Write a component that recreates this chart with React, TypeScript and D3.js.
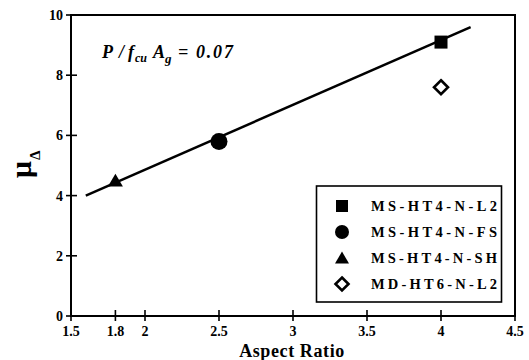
import React from "react";
import * as d3 from "d3";

const W = 529, H = 360;
const xTicks = [1.5, 1.8, 2, 2.5, 3, 3.5, 4, 4.5];
const xTickLabels = ["1.5", "1.8", "2", "2.5", "3", "3.5", "4", "4.5"];
const yTicks = [0, 2, 4, 6, 8, 10];
const seriesNames = ["MS-HT4-N-L2", "MS-HT4-N-FS", "MS-HT4-N-SH", "MD-HT6-N-L2"];
const seriesShapes = ["square", "circle", "triangle", "diamond"];
const seriesX = [4, 2.5, 1.8, 4];
const seriesY = [9.1, 5.8, 4.5, 7.6];
const fitX = [1.6, 4.2];
const fitY = [4.0, 9.6];

const FONT = "Liberation Serif, Times New Roman, Times, serif";

function marker(shape: string, cx: number, cy: number, s: number, key?: string | number) {
  if (shape === "square") {
    return <rect key={key} x={cx - s / 2} y={cy - s / 2} width={s} height={s} fill="#000" />;
  }
  if (shape === "circle") {
    return <circle key={key} cx={cx} cy={cy} r={s / 2 + 1} fill="#000" />;
  }
  if (shape === "triangle") {
    const h = s * 0.9;
    return (
      <path key={key} d={`M${cx},${cy - h / 2 - 1}L${cx + s / 2 + 1},${cy + h / 2}L${cx - s / 2 - 1},${cy + h / 2}Z`} fill="#000" />
    );
  }
  const r = s / 2 + 0.5;
  return (
    <path key={key} d={`M${cx},${cy - r}L${cx + r},${cy}L${cx},${cy + r}L${cx - r},${cy}Z`} fill="#fff" stroke="#000" strokeWidth={2.6} />
  );
}

export default function App() {
  const x = d3.scaleLinear().domain([1.5, 4.5]).range([71, 515]);
  const y = d3.scaleLinear().domain([0, 10]).range([316, 15]);
  const line = d3.line<number>().x((d, i) => x(fitX[i])).y((d, i) => y(fitY[i]));
  const legendRowsY = [206, 232, 258, 284];

  return (
    <svg width={W} height={H} style={{ position: "absolute", left: 0, top: 0, background: "#fff" }}>
      {/* frame */}
      <path d={`M${x(1.5)},${y(0)}L${x(1.5)},${y(10)}L${x(4.5)},${y(10)}L${x(4.5)},${y(0)}Z`} fill="none" stroke="#000" strokeWidth={2} />
      {/* y ticks */}
      {yTicks.map((t) => (
        <g key={"y" + t}>
          <line x1={x(1.5) - 5} x2={x(1.5) + 6} y1={y(t)} y2={y(t)} stroke="#000" strokeWidth={1.6} />
          <text x={63} y={y(t)} dy="0.35em" textAnchor="end" fontFamily={FONT} fontWeight="bold" fontSize={14}>{t}</text>
        </g>
      ))}
      {/* x ticks */}
      {xTicks.map((t, i) => (
        <g key={"x" + t}>
          <line x1={x(t)} x2={x(t)} y1={y(0) - 6} y2={y(0) + 5} stroke="#000" strokeWidth={1.6} />
          <text x={x(t)} y={336} textAnchor="middle" fontFamily={FONT} fontWeight="bold" fontSize={14}>{xTickLabels[i]}</text>
        </g>
      ))}
      {/* axis titles */}
      <text x={292} y={357} textAnchor="middle" fontFamily={FONT} fontWeight="bold" fontSize={18} letterSpacing={0.6}>Aspect Ratio</text>
      <text transform="translate(31,178) rotate(-90)" fontFamily={FONT} fontWeight="bold">
        <tspan fontSize={30}>μ</tspan>
        <tspan fontSize={15} dx={1} dy={9}>Δ</tspan>
      </text>
      {/* annotation */}
      <g fontFamily={FONT} fontWeight="bold" fontStyle="italic" fontSize={18}>
        <text x={102} y={58}>P</text>
        <text x={119} y={58}>/</text>
        <text x={128} y={58}>f</text>
        <text x={135} y={62} fontSize={12}>cu</text>
        <text x={153} y={58}>A</text>
        <text x={165} y={63} fontSize={13}>g</text>
        <text x={178} y={58}>=</text>
        <text x={196} y={58} letterSpacing={1.8}>0.07</text>
      </g>
      {/* fit line */}
      <path d={line(fitX) || ""} fill="none" stroke="#000" strokeWidth={2.5} />
      {/* points */}
      {seriesNames.map((n, i) => marker(seriesShapes[i], x(seriesX[i]), y(seriesY[i]), seriesShapes[i] === "circle" ? 15 : 13, "p" + i))}
      {/* legend */}
      <rect x={316.5} y={186} width={185} height={116} fill="#fff" stroke="#000" strokeWidth={1.6} />
      {seriesNames.map((n, i) => (
        <g key={"l" + i}>
          {marker(seriesShapes[i], 342, legendRowsY[i], 12)}
          <text x={371} y={legendRowsY[i]} dy="0.35em" fontFamily={FONT} fontWeight="bold" fontSize={14.5} textLength={126} lengthAdjust="spacing">{n}</text>
        </g>
      ))}
    </svg>
  );
}
